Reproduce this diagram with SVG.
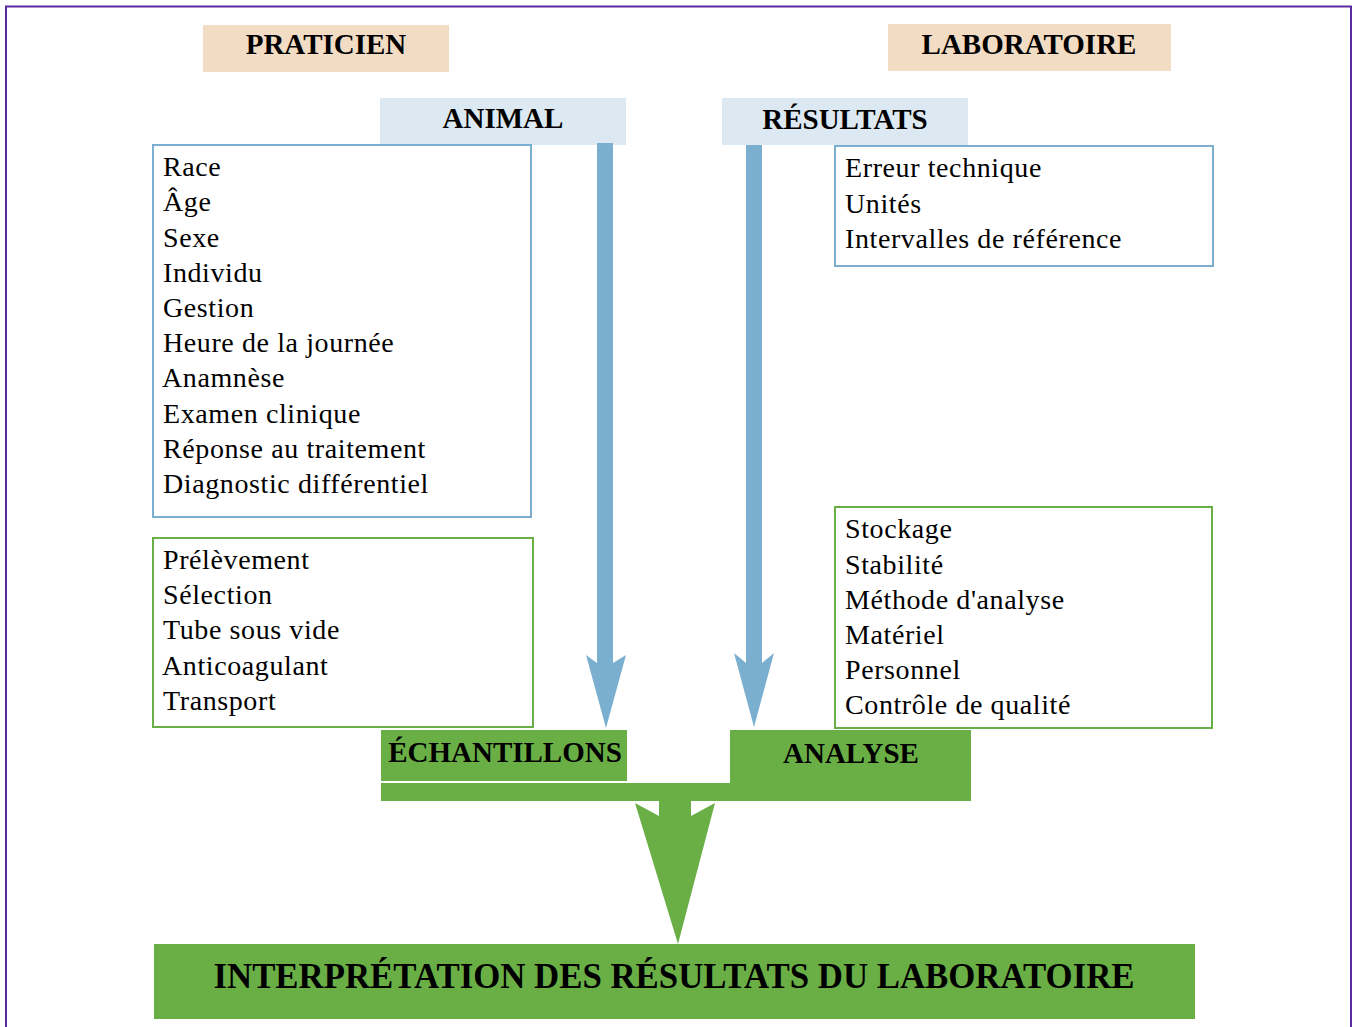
<svg xmlns="http://www.w3.org/2000/svg" width="1354" height="1027" viewBox="0 0 1354 1027">
<style>
.hdr{font-family:"Liberation Serif","Times New Roman",serif;font-weight:bold;font-size:29px;fill:#000;text-anchor:middle}
.txt{font-family:"Liberation Serif","Times New Roman",serif;font-size:28px;letter-spacing:0.6px;fill:#000}
.peach{fill:#F3DCC4}
.lblue{fill:#DDE9F2}
.green{fill:#6AAF46}
.bbox{fill:#fff;stroke:#7BAFD0;stroke-width:2}
.gbox{fill:#fff;stroke:#6AAF46;stroke-width:2}
.barrow{fill:#7BAFD0}
</style>
<rect x="6" y="6.5" width="1345" height="1040" fill="#fff" stroke="#5B2A9E" stroke-width="2"/>

<g id="praticien"><rect class="peach" x="203" y="25" width="246" height="47"/><text class="hdr" x="326" y="54">PRATICIEN</text></g>
<g id="laboratoire"><rect class="peach" x="888" y="24" width="283" height="47"/><text class="hdr" x="1029" y="54">LABORATOIRE</text></g>
<g id="animal"><rect class="lblue" x="380" y="98" width="246" height="47"/><text class="hdr" x="503" y="128">ANIMAL</text></g>
<g id="resultats"><rect class="lblue" x="722" y="98" width="246" height="47"/><text class="hdr" x="845" y="129">RÉSULTATS</text></g>

<g id="animal-factors"><rect class="bbox" x="153" y="145" width="378" height="372"/>
<text class="txt"><tspan x="163" y="176">Race</tspan><tspan x="163" y="211">Âge</tspan><tspan x="163" y="247">Sexe</tspan><tspan x="163" y="282">Individu</tspan><tspan x="163" y="317">Gestion</tspan><tspan x="163" y="352">Heure de la journée</tspan><tspan x="162" y="387">Anamnèse</tspan><tspan x="163" y="423">Examen clinique</tspan><tspan x="163" y="458">Réponse au traitement</tspan><tspan x="163" y="493">Diagnostic différentiel</tspan></text></g>

<g id="result-factors"><rect class="bbox" x="835" y="146" width="378" height="120"/>
<text class="txt"><tspan x="845" y="177">Erreur technique</tspan><tspan x="845" y="213">Unités</tspan><tspan x="845" y="248">Intervalles de référence</tspan></text></g>

<g id="sample-factors"><rect class="gbox" x="153" y="538" width="380" height="189"/>
<text class="txt"><tspan x="163" y="569">Prélèvement</tspan><tspan x="163" y="604">Sélection</tspan><tspan x="163" y="639">Tube sous vide</tspan><tspan x="162" y="675">Anticoagulant</tspan><tspan x="163" y="710">Transport</tspan></text></g>

<g id="analysis-factors"><rect class="gbox" x="835" y="507" width="377" height="221"/>
<text class="txt"><tspan x="845" y="538">Stockage</tspan><tspan x="845" y="574">Stabilité</tspan><tspan x="845" y="609">Méthode d'analyse</tspan><tspan x="845" y="644">Matériel</tspan><tspan x="845" y="679">Personnel</tspan><tspan x="845" y="714">Contrôle de qualité</tspan></text></g>

<g id="echantillons"><rect class="green" x="381" y="730" width="246" height="51"/><text class="hdr" x="505" y="762">ÉCHANTILLONS</text></g>
<g id="analyse"><rect class="green" x="730" y="730" width="241" height="70"/><text class="hdr" x="851" y="763">ANALYSE</text></g>
<rect class="green" x="381" y="783" width="590" height="18"/>

<g id="interpretation"><rect class="green" x="154" y="944" width="1041" height="75"/><text class="hdr" x="674" y="988" style="font-size:34.8px">INTERPRÉTATION DES RÉSULTATS DU LABORATOIRE</text></g>

<g id="connectors">
<polygon class="barrow" points="597,143 613,143 613,663 626,655 606,728 586,655 597,663"/>
<polygon class="barrow" points="746,145 762,145 762,663 774,653 754,727 734,653 746,663"/>
<polygon class="green" points="659,800 691,800 691,816 715,803 678,944 635,803 659,816"/>
</g>
</svg>
